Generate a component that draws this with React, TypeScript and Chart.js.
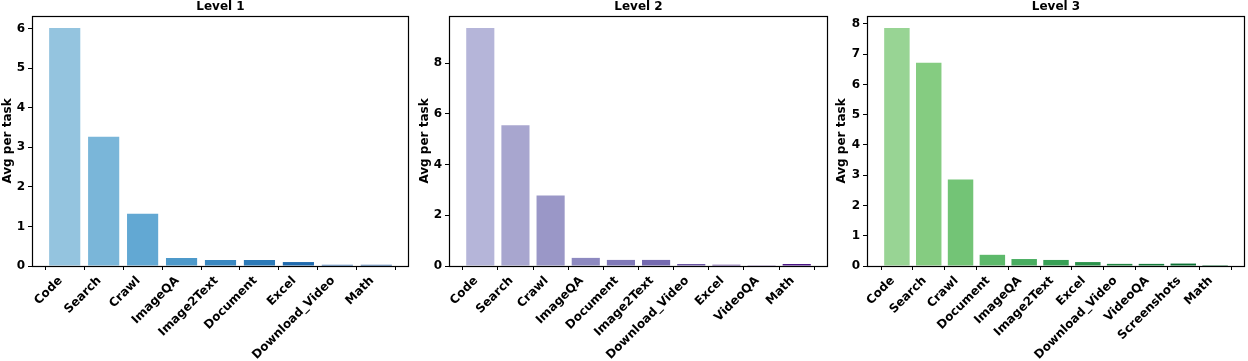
import React, { useEffect, useRef } from "react";
import { Chart, registerables } from "chart.js";
Chart.register(...registerables);

// ---- Data ----
const level1Categories = ["Code", "Search", "Crawl", "ImageQA", "Image2Text", "Document", "Excel", "Download_Video", "Math"];
const level1Values = [6.02, 3.27, 1.32, 0.2, 0.15, 0.15, 0.1, 0.03, 0.03];
const level1Colors = ["#94c4df", "#7ab6d9", "#62a8d3", "#4d99ca", "#3a88c1", "#2c7ab8", "#1f6aae", "#1457a0", "#0b4890"];
const level1YTicks = [0, 1, 2, 3, 4, 5, 6];

const level2Categories = ["Code", "Search", "Crawl", "ImageQA", "Document", "Image2Text", "Download_Video", "Excel", "VideoQA", "Math"];
const level2Values = [9.39, 5.55, 2.78, 0.32, 0.24, 0.24, 0.08, 0.05, 0.01, 0.08];
const level2Colors = ["#b5b5d9", "#a8a6cf", "#9a97c7", "#8d89c0", "#8079b8", "#756ab0", "#6a54a2", "#5f3f96", "#552b8e", "#4a1486"];
const level2YTicks = [0, 2, 4, 6, 8];

const level3Categories = ["Code", "Search", "Crawl", "Document", "ImageQA", "Image2Text", "Excel", "Download_Video", "VideoQA", "Screenshots", "Math"];
const level3Values = [7.87, 6.72, 2.86, 0.37, 0.23, 0.2, 0.13, 0.07, 0.07, 0.08, 0.03];
const level3Colors = ["#98d494", "#85cc81", "#73c476", "#5db96b", "#48ad60", "#37a055", "#2b934b", "#1f8641", "#137c3a", "#097032", "#00632a"];
const level3YTicks = [0, 1, 2, 3, 4, 5, 6, 7, 8];

const FONT = '"DejaVu Sans", sans-serif';
const H = 361;
const CHART_BOTTOM = 266;
const CHART_TOP = 16;

type PanelProps = {
  title: string;
  categories: string[];
  values: number[];
  colors: string[];
  yTicks: number[];
  left: number;
  width: number;
  yAxisWidth: number;
  rightPad: number;
  ylabelX: number;
};

function Panel(p: PanelProps) {
  const ref = useRef<HTMLCanvasElement | null>(null);
  useEffect(() => {
    if (!ref.current) return;
    const n = p.categories.length;
    const maxV = Math.max(...p.values) * 1.05;
    const xMargin = 0.05 * (n - 0.2);
    const xMin = -0.4 - xMargin;
    const xMax = n - 1 + 0.4 + xMargin;
    const decor = {
      id: "decor",
      afterDraw(chart: any) {
        const { ctx, chartArea: a } = chart;
        ctx.save();
        ctx.strokeStyle = "#000";
        ctx.lineWidth = 1.2;
        ctx.strokeRect(Math.round(a.left) + 0.5, Math.round(a.top) + 0.5, Math.round(a.right - a.left) - 1, Math.round(a.bottom - a.top));
        ctx.fillStyle = "#000";
        ctx.font = `bold 12px ${FONT}`;
        ctx.textAlign = "center";
        ctx.textBaseline = "middle";
        ctx.fillText(p.title, (a.left + a.right) / 2, 7);
        ctx.save();
        ctx.translate(p.ylabelX, (a.top + a.bottom) / 2);
        ctx.rotate(-Math.PI / 2);
        ctx.fillText("Avg per task", 0, 0);
        ctx.restore();
        // rotated category labels (matplotlib-like: rotation 45, ha right)
        const xs = chart.scales.x;
        ctx.textAlign = "right";
        ctx.textBaseline = "alphabetic";
        p.categories.forEach((label, i) => {
          const px = xs.getPixelForValue(i);
          ctx.save();
          ctx.translate(px - 2, a.bottom + 15);
          ctx.rotate(-Math.PI / 4);
          ctx.fillText(label, 0, 0);
          ctx.restore();
        });
        ctx.restore();
      },
    };
    const chart = new Chart(ref.current, {
      type: "bar",
      data: {
        datasets: [
          {
            data: p.values.map((v, i) => ({ x: i, y: v })),
            backgroundColor: p.colors,
            borderWidth: 0,
            barPercentage: 0.8,
            categoryPercentage: 1.0,
          },
        ],
      },
      options: {
        responsive: false,
        animation: false,
        layout: { padding: { left: 0, right: p.rightPad, top: CHART_TOP, bottom: 0 } },
        plugins: { legend: { display: false }, tooltip: { enabled: false }, title: { display: false } },
        scales: {
          x: {
            type: "linear",
            min: xMin,
            max: xMax,
            offset: false,
            grid: { display: true, drawOnChartArea: false, drawTicks: true, tickLength: 4, color: "#000" },
            border: { display: false },
            ticks: { display: false },
            afterBuildTicks: (s: any) => {
              s.ticks = p.categories.map((_, i) => ({ value: i }));
            },
            afterFit: (s: any) => {
              s.height = H - CHART_BOTTOM;
            },
          },
          y: {
            min: 0,
            max: maxV,
            grid: { display: true, drawOnChartArea: false, drawTicks: true, tickLength: 4, color: "#000" },
            border: { display: false },
            ticks: {
              color: "#000",
              padding: 3,
              font: { family: FONT, size: 12, weight: "bold" },
            },
            afterBuildTicks: (s: any) => {
              s.ticks = p.yTicks.map((v) => ({ value: v }));
            },
            afterFit: (s: any) => {
              s.width = p.yAxisWidth;
            },
          },
        },
      },
      plugins: [decor],
    });
    return () => chart.destroy();
  }, []);
  return (
    <canvas
      ref={ref}
      width={p.width}
      height={H}
      style={{ position: "absolute", left: p.left, top: 0, width: p.width, height: H }}
    />
  );
}

export default function App() {
  return (
    <div style={{ position: "absolute", left: 0, top: 0, width: 1248, height: H, background: "#fff", overflow: "hidden" }}>
      <Panel title="Level 1" categories={level1Categories} values={level1Values} colors={level1Colors} yTicks={level1YTicks}
        left={0} width={410} yAxisWidth={32} rightPad={1} ylabelX={8} />
      <Panel title="Level 2" categories={level2Categories} values={level2Values} colors={level2Colors} yTicks={level2YTicks}
        left={410} width={419} yAxisWidth={39} rightPad={1} ylabelX={15} />
      <Panel title="Level 3" categories={level3Categories} values={level3Values} colors={level3Colors} yTicks={level3YTicks}
        left={828} width={420} yAxisWidth={39} rightPad={3} ylabelX={14} />
    </div>
  );
}
